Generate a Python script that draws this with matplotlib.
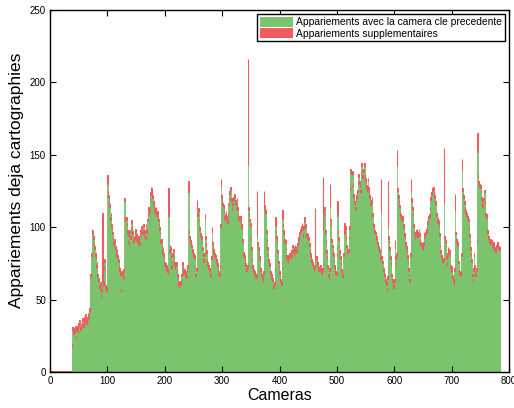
import numpy as np
import matplotlib
matplotlib.use('Agg')
import matplotlib.pyplot as plt

plt.rcParams['font.family'] = ['Liberation Sans', 'DejaVu Sans']

# ---------------- data ----------------
n_cameras = 785
first_camera = 38          # cameras before this have no matches with the previous key camera

# matches with the previous key camera, cameras 38 .. 784
matched_prev = [
    17, 29, 28, 26, 29, 27, 30, 23, 28, 29,
    30, 27, 32, 34, 33, 29, 30, 31, 33, 35,
    31, 34, 36, 33, 38, 35, 33, 36, 39, 37,
    40, 42, 64, 66, 80, 97, 95, 96, 92, 88,
    85, 80, 78, 72, 74, 66, 62, 63, 58, 57,
    60, 52, 55, 58, 62, 60, 72, 76, 70, 58,
    56, 57, 130, 123, 120, 116, 114, 105, 108, 100,
    98, 95, 92, 88, 90, 86, 85, 82, 80, 83,
    79, 76, 72, 70, 66, 68, 55, 67, 68, 65,
    69, 64, 118, 106, 104, 105, 101, 96, 89, 94,
    88, 96, 92, 98, 103, 99, 95, 96, 90, 92,
    95, 97, 93, 91, 94, 89, 92, 90, 88, 93,
    96, 99, 98, 95, 97, 100, 94, 96, 92, 100,
    97, 95, 104, 108, 112, 110, 118, 122, 126, 125,
    123, 120, 116, 113, 111, 112, 110, 112, 108, 109,
    106, 104, 101, 98, 95, 89, 90, 86, 82, 84,
    80, 78, 74, 73, 70, 72, 71, 69, 68, 108,
    82, 86, 84, 79, 72, 75, 80, 83, 78, 74,
    71, 73, 74, 69, 66, 64, 60, 58, 61, 60,
    62, 66, 70, 74, 71, 68, 69, 66, 68, 67,
    65, 69, 72, 124, 96, 92, 90, 89, 88, 86,
    83, 81, 80, 78, 79, 72, 66, 70, 112, 108,
    110, 111, 104, 98, 94, 93, 92, 89, 84, 80,
    76, 80, 106, 92, 87, 82, 76, 74, 72, 71,
    70, 68, 66, 78, 96, 88, 84, 83, 82, 80,
    79, 77, 76, 75, 73, 70, 68, 66, 72, 100,
    128, 120, 117, 115, 113, 110, 106, 104, 107, 109,
    106, 103, 108, 115, 119, 123, 125, 126, 118, 112,
    115, 118, 119, 120, 121, 117, 112, 115, 118, 112,
    108, 106, 104, 105, 106, 102, 100, 98, 90, 81,
    80, 79, 76, 73, 70, 69, 72, 142, 112, 108,
    104, 101, 92, 84, 77, 72, 70, 69, 68, 67,
    65, 64, 66, 93, 88, 84, 81, 78, 76, 70,
    67, 66, 64, 62, 68, 112, 113, 112, 110, 96,
    90, 84, 80, 76, 74, 73, 68, 64, 66, 64,
    63, 62, 58, 60, 70, 101, 96, 92, 89, 82,
    75, 72, 68, 66, 62, 60, 75, 106, 100, 96,
    94, 90, 89, 84, 79, 78, 77, 75, 79, 80,
    78, 80, 80, 82, 79, 86, 83, 80, 84, 86,
    82, 85, 83, 87, 89, 91, 93, 95, 97, 97,
    99, 101, 98, 93, 99, 103, 105, 100, 93, 94,
    92, 93, 92, 91, 87, 83, 80, 78, 76, 75,
    74, 72, 70, 72, 79, 78, 78, 76, 74, 72,
    70, 71, 70, 72, 68, 69, 67, 70, 98, 110,
    112, 108, 96, 89, 82, 78, 72, 66, 64, 70,
    114, 104, 101, 90, 86, 82, 80, 76, 72, 70,
    68, 67, 80, 108, 96, 91, 86, 82, 78, 74,
    69, 68, 66, 65, 80, 95, 100, 99, 92, 86,
    84, 82, 83, 92, 99, 126, 138, 137, 136, 137,
    128, 121, 118, 116, 112, 118, 120, 123, 124, 130,
    135, 130, 128, 124, 136, 142, 138, 134, 138, 142,
    142, 135, 132, 130, 127, 125, 132, 126, 123, 120,
    118, 115, 117, 119, 108, 101, 100, 98, 96, 95,
    95, 92, 90, 88, 86, 85, 83, 80, 78, 110,
    78, 76, 75, 70, 68, 66, 65, 62, 60, 56,
    64, 99, 92, 89, 84, 78, 74, 66, 63, 62,
    60, 58, 62, 85, 78, 74, 80, 142, 125, 120,
    117, 113, 109, 107, 105, 104, 106, 105, 100, 99,
    94, 92, 88, 85, 82, 79, 75, 70, 66, 62,
    80, 124, 118, 117, 112, 108, 100, 95, 91, 94,
    95, 96, 97, 93, 95, 97, 94, 90, 88, 87,
    85, 86, 84, 88, 92, 94, 95, 96, 97, 99,
    102, 105, 106, 107, 112, 119, 120, 122, 123, 125,
    126, 122, 120, 117, 116, 115, 108, 103, 105, 103,
    100, 94, 86, 82, 79, 78, 76, 75, 77, 116,
    92, 89, 86, 78, 74, 80, 84, 83, 82, 81,
    72, 69, 70, 71, 65, 62, 60, 70, 111, 95,
    90, 90, 88, 87, 75, 69, 68, 67, 66, 80,
    139, 125, 121, 120, 116, 112, 110, 109, 108, 108,
    106, 104, 98, 93, 89, 84, 80, 76, 66, 62,
    70, 80, 72, 68, 66, 70, 90, 152, 135, 130,
    129, 128, 127, 124, 119, 116, 114, 113, 118, 124,
    116, 108, 106, 107, 107, 96, 92, 90, 89, 88,
    90, 89, 87, 86, 85, 88, 86, 84, 83, 85,
    86, 87, 88, 86, 85, 84, 84,
]

# supplementary matches: small everywhere, large for a few cameras
extra_before_first = 1
extra_typical = 2
spike_cameras = [92, 100, 130, 207, 241, 256, 270, 282, 298, 345, 361, 373, 393,
                 405, 462, 476, 488, 501, 513, 577, 589, 601, 605, 629, 687, 706,
                 718, 745]
spike_extra = [48, 6, 2, 19, 8, 7, 3, 4, 5, 74, 32, 13, 6,
               6, 34, 37, 16, 10, 8, 23, 33, 6, 11, 9, 39, 12,
               8, 13]

x_ticks = [0, 100, 200, 300, 400, 500, 600, 700, 800]
y_ticks = [0, 50, 100, 150, 200, 250]
label_prev = "Appariements avec la camera cle precedente"
label_extra = "Appariements supplementaires"

# ---------------- build series ----------------
cams = np.arange(n_cameras)
matched = np.zeros(n_cameras)
matched[first_camera:first_camera + len(matched_prev)] = matched_prev
extra = np.full(n_cameras, float(extra_typical))
extra[:first_camera] = extra_before_first
extra[spike_cameras] = spike_extra

GREEN = '#7BC36C'
RED = '#F25A5E'

fig = plt.figure(figsize=(5.14, 4.08), dpi=100)
ax = fig.add_axes([50 / 514, 36 / 408, 459 / 514, 362 / 408])

ax.bar(cams, matched, width=1.0, color=GREEN, edgecolor=GREEN, linewidth=0.6,
       label=label_prev)
ax.bar(cams, extra, bottom=matched, width=1.0, color=RED, edgecolor=RED, linewidth=0.75,
       label=label_extra)

ax.set_xlim(0, 800)
ax.set_ylim(0, 250)
ax.set_xticks(x_ticks)
ax.set_yticks(y_ticks)
ax.tick_params(direction='in', top=True, right=True, length=4, width=0.8,
               labelsize=7, pad=3)
for s in ax.spines.values():
    s.set_linewidth(1.0)
    s.set_color('black')

ax.set_xlabel("Cameras", fontsize=11.5, labelpad=1)
ax.set_ylabel("Appariements deja cartographies", fontsize=12.5)
ax.yaxis.set_label_coords(-0.057, 0.53)

leg = ax.legend(loc='upper right', fontsize=7.4, handlelength=3.2, handleheight=1.1,
                fancybox=False, edgecolor='black', framealpha=1,
                borderpad=0.25, labelspacing=0.1, handletextpad=0.35,
                borderaxespad=0.4)
leg.get_frame().set_linewidth(1.0)
for h in leg.legend_handles:
    h.set_linewidth(0)

fig.savefig('out.png', dpi=100)
